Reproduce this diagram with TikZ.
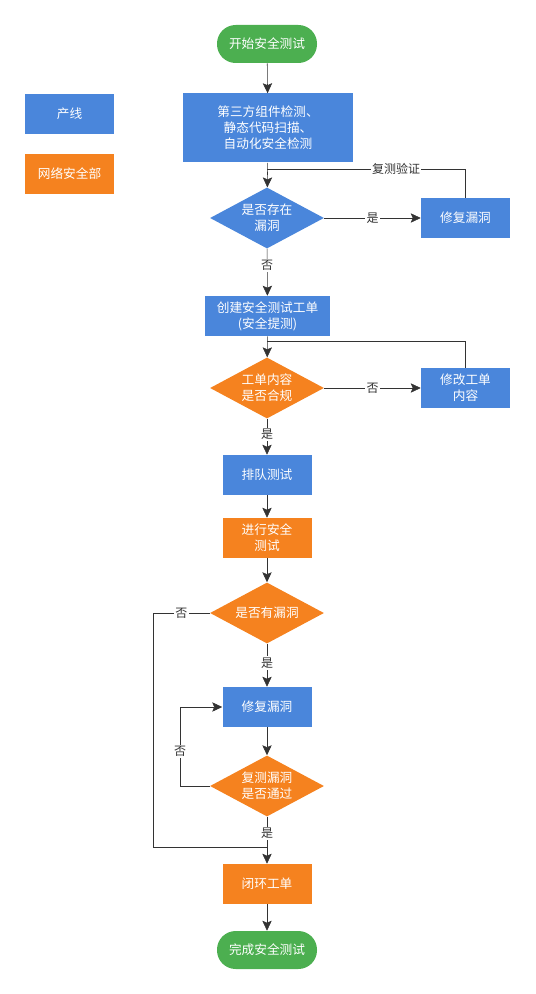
\documentclass[tikz,border=0pt]{standalone}
\usepackage{fontspec}
\usepackage{xcolor}
\usepackage{tikz}
\usetikzlibrary{positioning,arrows.meta,shapes.geometric,calc}
\newfontfamily\cjk{Noto Sans CJK SC}
\definecolor{teamblue}{HTML}{4A86DB}
\definecolor{secorange}{HTML}{F5821F}
\definecolor{termgreen}{HTML}{4CAF50}
\definecolor{linegray}{HTML}{333333}
\tikzset{
bluebox/.style={
draw=none,
minimum width=66.75pt,
minimum height=30pt,
align=center,
fill=teamblue,
text=white,
font=\cjk\fontsize{9.5}{12}\selectfont
},
orangebox/.style={
bluebox,
fill=secorange
},
startend/.style={
bluebox,
rounded corners=14pt,
minimum width=75pt,
minimum height=28.5pt,
fill=termgreen
},
bluedec/.style={
diamond,
draw=none,
inner sep=-10pt,
minimum width=85.5pt,
minimum height=45.75pt,
align=center,
fill=teamblue,
text=white,
font=\cjk\fontsize{9.5}{12}\selectfont
},
orangedec/.style={
bluedec,
fill=secorange
},
lbl/.style={
fill=white,
inner sep=1pt,
text=linegray,
font=\cjk\fontsize{9}{11}\selectfont
},
line/.style={
draw=linegray,
thin
},
arrow/.style={
line,
-{Stealth[length=7.5pt,width=7pt,inset=1.5pt]}
}
}
\begin{document}
\begin{tikzpicture}[x=0.75pt,y=-0.75pt]
\useasboundingbox (0,0) rectangle (535,994);
% legend
\node[bluebox] (legprod) at (69.5,114) {产线};
\node[orangebox] (legsec) at (69.5,174) {网络安全部};

% main column
\node[startend](start) at (267,44) {开始安全测试};
\node[bluebox,minimum width=127.5pt,minimum height=51.75pt](scan) at (268,128) {第三方组件检测、\\静态代码扫描、\\自动化安全检测};
\node[bluedec](hasvul) at (267,218) {是否存在\\漏洞};
\node[bluebox](fixa) at (465.5,218) {修复漏洞};
\node[bluebox,minimum width=93.75pt](ticket) at (267.5,316) {创建安全测试工单\\(安全提测)};
\node[orangedec](compliant) at (267,388) {工单内容\\是否合规};
\node[bluebox](edit) at (465.5,388) {修改工单\\内容};
\node[bluebox](queue) at (267,475) {排队测试};
\node[orangebox](run) at (267,538) {进行安全\\测试};
\node[orangedec](found) at (267,613) {是否有漏洞};
\node[bluebox](fixb) at (267,707) {修复漏洞};
\node[orangedec](retest) at (267,786) {复测漏洞\\是否通过};
\node[orangebox](close) at (267,884) {闭环工单};
\node[startend](finish) at (267,950) {完成安全测试};

% bends
\coordinate (backa) at (267,169);
\coordinate (backb) at (267,341);
\coordinate (loopa) at (153,613);
\coordinate (skip) at (267,847);
\coordinate (loopb) at (180,786);

\draw[arrow](start)--(scan);
\draw[arrow](scan)--(hasvul);
\draw[arrow](hasvul)--node[lbl]{是}(fixa);
\draw[line](fixa.north)|-node[lbl,pos=0.675]{复测验证}(backa);
\draw[arrow](hasvul)--node[lbl,pos=0.36]{否}(ticket);
\draw[arrow](ticket)--(compliant);
\draw[arrow](compliant)--node[lbl]{否}(edit);
\draw[line](edit.north)|-(backb);
\draw[arrow](compliant)--node[lbl,pos=0.43]{是}(queue);
\draw[arrow](queue)--(run);
\draw[arrow](run)--(found);
\draw[arrow](found)--node[lbl,pos=0.45]{是}(fixb);
\draw[line](found.west)--node[lbl]{否}(loopa)|-(skip);
\draw[arrow](fixb)--(retest);
\draw[arrow](retest.west)--(loopb)|-node[lbl,pos=0.22]{否}(fixb.west);
\draw[arrow](retest)--node[lbl,pos=0.35]{是}(close);
\draw[arrow](close)--(finish);
\end{tikzpicture}
\end{document}
